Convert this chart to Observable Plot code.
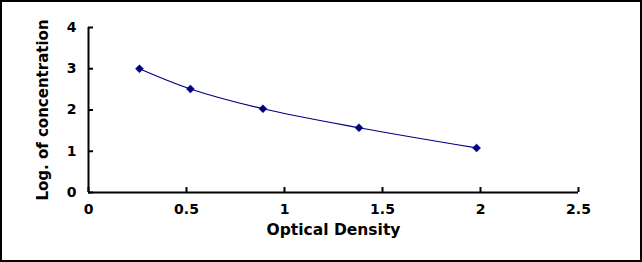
<!DOCTYPE html>
<html>
<head>
<meta charset="utf-8">
<script src="https://cdn.jsdelivr.net/npm/d3@7"></script>
<script src="https://cdn.jsdelivr.net/npm/@observablehq/plot@0.6"></script>
<style>
  html, body { margin: 0; padding: 0; background: #fff; }
  #chart svg { display: block; outline: 2px solid #000; outline-offset: -2px; }
</style>
</head>
<body>
<div id="chart"></div>
<script>
const opticalDensity = [0.26, 0.52, 0.89, 1.38, 1.98];
const logConcentration = [3.0, 2.51, 2.03, 1.57, 1.08];
const xTicks = [0, 0.5, 1, 1.5, 2, 2.5];
const yTicks = [0, 1, 2, 3, 4];
const xTitle = "Optical Density";
const yTitle = "Log. of concentration";

const data = opticalDensity.map((x, i) => ({x, y: logConcentration[i]}));
const font = "'DejaVu Sans', Arial, sans-serif";

const chart = Plot.plot({
  width: 642,
  height: 262,
  marginLeft: 88,
  marginRight: 64,
  marginTop: 27,
  marginBottom: 70,
  style: {fontFamily: font, fontWeight: "bold", fontSize: "14px", color: "#000", background: "#fff"},
  x: {domain: [0, 2.5]},
  y: {domain: [0, 4]},
  marks: [
    Plot.axisX({ticks: xTicks, tickFormat: d => String(d), tickSize: -5, tickPadding: 17, label: null, strokeWidth: 2}),
    Plot.axisY({ticks: yTicks, tickFormat: d => String(d), tickSize: -5, tickPadding: 17, label: null, strokeWidth: 2}),
    Plot.ruleX([0], {stroke: "#000", strokeWidth: 2}),
    Plot.ruleY([0], {stroke: "#000", strokeWidth: 2}),
    Plot.line(data, {x: "x", y: "y", curve: "catmull-rom", stroke: "#000080", strokeWidth: 1.2}),
    Plot.dot(data, {x: "x", y: "y", symbol: "diamond2", r: 3.6, fill: "#000080", stroke: "#000080", strokeWidth: 0.5}),
    Plot.text([xTitle], {frameAnchor: "bottom", dy: 42, fontSize: 15.5, fontWeight: "bold", fill: "#000", textAnchor: "middle"}),
    Plot.text([yTitle], {frameAnchor: "left", dx: -45, rotate: -90, fontSize: 15, fontWeight: "bold", fill: "#000", textAnchor: "middle"})
  ]
});
document.getElementById("chart").appendChild(chart);
</script>
</body>
</html>
